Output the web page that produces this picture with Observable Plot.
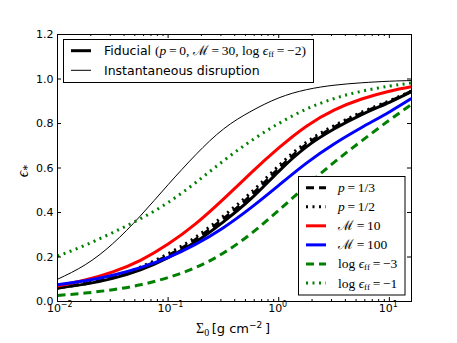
<!DOCTYPE html>
<html><head><meta charset="utf-8">
<script src="https://cdn.jsdelivr.net/npm/d3@7"></script>
<script src="https://cdn.jsdelivr.net/npm/@observablehq/plot@0.6"></script>
<style>body{margin:0;background:#fff} svg{display:block}</style>
</head><body><div id="chart"></div>
<script>
// Σ0 sample points [g cm^-2]
const sigma    = [0.01, 0.0178, 0.0316, 0.0562, 0.1, 0.178, 0.316, 0.562, 1, 1.78, 3.16, 5.62, 10, 15.8];
// ε* for each model
const fiducial = [0.060, 0.078, 0.104, 0.142, 0.197, 0.268, 0.358, 0.462, 0.585, 0.695, 0.775, 0.840, 0.895, 0.943];
const p13      = [0.061, 0.080, 0.108, 0.149, 0.207, 0.280, 0.372, 0.477, 0.598, 0.706, 0.783, 0.846, 0.899, 0.945];
const p12      = [0.062, 0.082, 0.112, 0.155, 0.215, 0.290, 0.384, 0.490, 0.610, 0.716, 0.790, 0.851, 0.902, 0.946];
const mach10   = [0.070, 0.097, 0.133, 0.185, 0.258, 0.350, 0.460, 0.578, 0.690, 0.788, 0.860, 0.910, 0.945, 0.965];
const mach100  = [0.075, 0.093, 0.118, 0.152, 0.198, 0.258, 0.332, 0.422, 0.522, 0.622, 0.708, 0.782, 0.852, 0.912];
const effm3    = [0.027, 0.038, 0.053, 0.075, 0.108, 0.153, 0.218, 0.305, 0.410, 0.520, 0.625, 0.722, 0.815, 0.885];
const effm1    = [0.204, 0.253, 0.310, 0.372, 0.445, 0.535, 0.632, 0.722, 0.800, 0.865, 0.912, 0.945, 0.968, 0.982];
const instant  = [0.100, 0.165, 0.260, 0.385, 0.525, 0.660, 0.775, 0.855, 0.915, 0.952, 0.972, 0.983, 0.990, 0.993];

const xDomain = [0.01, 15.85];
const yDomain = [0, 1.2];
const yTicks = [0, 0.2, 0.4, 0.6, 0.8, 1.0, 1.2];
const xMajor = [0.01, 0.1, 1, 10];
const xExp = ["\u22122", "\u22121", "0", "1"];
const xMinor = [0.02,0.03,0.04,0.05,0.06,0.07,0.08,0.09,0.2,0.3,0.4,0.5,0.6,0.7,0.8,0.9,2,3,4,5,6,7,8,9];

const W = 457, H = 343, mL = 57, mR = 46, mT = 34, mB = 42;
const fw = W - mL - mR, fh = H - mT - mB;

const GREEN = "#008000";
function ser(vals) { return sigma.map((s, i) => ({s, v: vals[i]})); }
function line(vals, o) {
  return Plot.line(ser(vals), {x: "s", y: "v", curve: "natural", strokeLinecap: "butt", ...o});
}

const chart = Plot.plot({
  width: W, height: H,
  marginLeft: mL, marginRight: mR, marginTop: mT, marginBottom: mB,
  style: {fontFamily: "DejaVu Sans", fontSize: "11px", background: "white", color: "black"},
  x: {type: "log", domain: xDomain, axis: null},
  y: {domain: yDomain, axis: null},
  marks: [
    line(fiducial, {stroke: "black", strokeWidth: 3}),
    line(instant, {stroke: "black", strokeWidth: 1}),
    line(p13, {stroke: "black", strokeWidth: 3, strokeDasharray: "8,5"}),
    line(p12, {stroke: "black", strokeWidth: 3, strokeDasharray: "2,4.5"}),
    line(mach10, {stroke: "#ff0000", strokeWidth: 3}),
    line(mach100, {stroke: "#0000ff", strokeWidth: 3}),
    line(effm3, {stroke: GREEN, strokeWidth: 3, strokeDasharray: "8,5"}),
    line(effm1, {stroke: GREEN, strokeWidth: 3, strokeDasharray: "2,4.5"}),
    // ticks (inward, all four sides)
    Plot.tickX(xMajor, {x: d => d, insetTop: fh - 4, stroke: "black"}),
    Plot.tickX(xMajor, {x: d => d, insetBottom: fh - 4, stroke: "black"}),
    Plot.tickX(xMinor, {x: d => d, insetTop: fh - 2, stroke: "black"}),
    Plot.tickX(xMinor, {x: d => d, insetBottom: fh - 2, stroke: "black"}),
    Plot.tickY(yTicks, {y: d => d, insetRight: fw - 4, stroke: "black"}),
    Plot.tickY(yTicks, {y: d => d, insetLeft: fw - 4, stroke: "black"}),
    Plot.frame({stroke: "black", strokeWidth: 1}),
    Plot.axisY(yTicks, {tickSize: 0, tickPadding: 4, tickFormat: d3.format(".1f"), label: null, fontSize: 11}),
    Plot.text(xMajor, {x: d => d, frameAnchor: "bottom", text: () => "10", dy: 10, dx: -3.5, fontSize: 11}),
    Plot.text(xMajor, {x: d => d, frameAnchor: "bottom", text: (d, i) => xExp[i], dy: 5, dx: 3.3, fontSize: 8, textAnchor: "start"})
  ]
});
document.getElementById("chart").append(chart);

const svg = d3.select(chart);
const SERIF = "'Liberation Serif', 'DejaVu Serif', serif";
const SANS = "'DejaVu Sans', sans-serif";

// axis labels
const xl = svg.append("text").attr("x", 233).attr("y", 333).attr("text-anchor", "middle")
  .attr("font-family", SANS).attr("font-size", 13).attr("fill", "black");
xl.append("tspan").attr("font-family", SERIF).attr("font-size", 14).text("\u03A3");
xl.append("tspan").attr("font-family", SERIF).attr("font-size", 10).attr("dy", 3).text("0");
xl.append("tspan").attr("dy", -3).text("\u2009[g cm");
xl.append("tspan").attr("font-size", 9).attr("dy", -5).text("\u22122");
xl.append("tspan").attr("dy", 5).text("\u2009]");

const yl = svg.append("text").attr("transform", "translate(28,171) rotate(-90)").attr("text-anchor", "middle")
  .attr("font-family", SERIF).attr("font-size", 16).attr("fill", "black");
yl.append("tspan").attr("font-style", "italic").text("\u03F5");
yl.append("tspan").attr("font-size", 12).attr("dy", 3).text("*");

// legend 1 (upper left)
const g1 = svg.append("g").attr("text-anchor", "start");
g1.append("rect").attr("x", 63.5).attr("y", 39.5).attr("width", 250).attr("height", 43)
  .attr("fill", "white").attr("stroke", "black");
g1.append("line").attr("x1", 71).attr("x2", 91).attr("y1", 50.7).attr("y2", 50.7).attr("stroke", "black").attr("stroke-width", 3);
g1.append("line").attr("x1", 71).attr("x2", 91).attr("y1", 70.3).attr("y2", 70.3).attr("stroke", "black").attr("stroke-width", 1);
const t1 = g1.append("text").attr("x", 104).attr("y", 55).attr("text-anchor", "start").attr("font-family", SANS).attr("font-size", 12.5).attr("fill", "black");
t1.append("tspan").text("Fiducial ");
const m1 = t1.append("tspan").attr("font-family", SERIF).attr("font-size", 13.5);
m1.append("tspan").text("(");
m1.append("tspan").attr("font-style", "italic").text("p");
m1.append("tspan").text("\u2009=\u20090, ");
m1.append("tspan").text("\u2133");
m1.append("tspan").text("\u2009=\u200930, log ");
m1.append("tspan").attr("font-style", "italic").text("\u03F5");
m1.append("tspan").attr("font-size", 9).attr("dy", 2).text("ff");
m1.append("tspan").attr("dy", -2).text("\u2009=\u2009\u22122)");
g1.append("text").attr("x", 104).attr("y", 74.5).attr("text-anchor", "start").attr("font-family", SANS).attr("font-size", 12.5).attr("fill", "black")
  .text("Instantaneous disruption");

// legend 2 (lower right)
const g2 = svg.append("g").attr("text-anchor", "start");
g2.append("rect").attr("x", 298.5).attr("y", 176.5).attr("width", 106.5).attr("height", 118.5)
  .attr("fill", "white").attr("stroke", "black");
const items = [
  {stroke: "black", dash: "8,5", lab: [["p", true], ["\u2009=\u20091/3", false]]},
  {stroke: "black", dash: "2,4.5", lab: [["p", true], ["\u2009=\u20091/2", false]]},
  {stroke: "#ff0000", dash: null, lab: [["\u2133", false], ["\u2009=\u200910", false]]},
  {stroke: "#0000ff", dash: null, lab: [["\u2133", false], ["\u2009=\u2009100", false]]},
  {stroke: GREEN, dash: "8,5", eff: "\u22123"},
  {stroke: GREEN, dash: "2,4.5", eff: "\u22121"}
];
items.forEach((it, i) => {
  const y = 187.7 + i * 19.06;
  g2.append("line").attr("x1", 306).attr("x2", 326).attr("y1", y).attr("y2", y)
    .attr("stroke", it.stroke).attr("stroke-width", 3).attr("stroke-dasharray", it.dash);
  const t = g2.append("text").attr("x", 338).attr("y", y + 4.5).attr("text-anchor", "start").attr("font-family", SERIF).attr("font-size", 13.5).attr("fill", "black");
  if (it.lab) {
    it.lab.forEach(([s, ital]) => t.append("tspan").attr("font-style", ital ? "italic" : null).text(s));
  } else {
    t.append("tspan").text("log ");
    t.append("tspan").attr("font-style", "italic").text("\u03F5");
    t.append("tspan").attr("font-size", 9).attr("dy", 2).text("ff");
    t.append("tspan").attr("dy", -2).text("\u2009=\u2009" + it.eff);
  }
});
</script>
</body></html>
